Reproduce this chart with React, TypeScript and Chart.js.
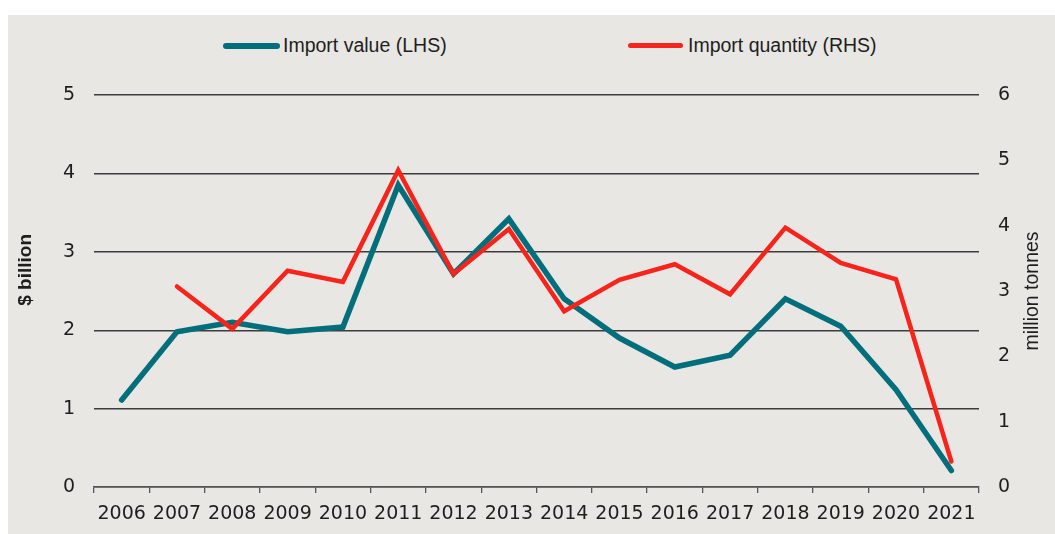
import React, { useEffect, useRef } from "react";
import { Chart, registerables } from "chart.js";

Chart.register(...registerables);

const years = ["2006","2007","2008","2009","2010","2011","2012","2013","2014","2015","2016","2017","2018","2019","2020","2021"];
const importValue = [1.11, 1.98, 2.1, 1.98, 2.04, 3.85, 2.72, 3.42, 2.4, 1.9, 1.53, 1.68, 2.4, 2.05, 1.24, 0.21];
const importQuantity = [null, 3.07, 2.42, 3.31, 3.14, 4.85, 3.26, 3.95, 2.69, 3.17, 3.41, 2.95, 3.97, 3.43, 3.18, 0.39];
const leftTitle = "$ billion";
const rightTitle = "million tonnes";
const valueLabel = "Import value (LHS)";
const quantityLabel = "Import quantity (RHS)";

const BLUE = "#006f7b";
const RED = "#f8231a";
const BG = "#e8e7e3";
const TEXT = "#1e1e1e";

// Draws the right axis title reading bottom-to-top, as in the reference.
const rightTitlePlugin = {
  id: "rightTitle",
  afterDraw(chart: any) {
    const { ctx, chartArea } = chart;
    ctx.save();
    ctx.translate(1025, (chartArea.top + chartArea.bottom) / 2);
    ctx.rotate(-Math.PI / 2);
    ctx.textAlign = "center";
    ctx.textBaseline = "middle";
    ctx.fillStyle = TEXT;
    ctx.font = "19.5px 'Liberation Sans'";
    ctx.fillText(rightTitle, 0, 0);
    ctx.restore();
  },
};

export default function App() {
  const ref = useRef<HTMLCanvasElement | null>(null);

  useEffect(() => {
    if (!ref.current) return;
    const chart = new Chart(ref.current, {
      type: "line",
      data: {
        labels: years,
        datasets: [
          {
            label: valueLabel,
            data: importValue,
            borderColor: BLUE,
            backgroundColor: BLUE,
            borderWidth: 5.5,
            borderCapStyle: "round",
            borderJoinStyle: "miter",
            pointRadius: 0,
            tension: 0,
            yAxisID: "y",
            order: 2,
          },
          {
            label: quantityLabel,
            data: importQuantity,
            borderColor: RED,
            backgroundColor: RED,
            borderWidth: 4.5,
            borderCapStyle: "round",
            borderJoinStyle: "miter",
            pointRadius: 0,
            tension: 0,
            yAxisID: "y1",
            order: 1,
          },
        ],
      },
      options: {
        responsive: false,
        animation: false,
        devicePixelRatio: 1,
        layout: { padding: { top: 80, left: 0, right: 0, bottom: 0 } },
        plugins: {
          legend: { display: false },
          tooltip: { enabled: false },
        },
        scales: {
          x: {
            offset: true,
            grid: {
              display: true,
              offset: true,
              drawOnChartArea: false,
              drawTicks: true,
              tickLength: 6,
              color: "#555",
              lineWidth: 1.3,
            },
            border: { display: true, color: "#555", width: 1.5 },
            ticks: {
              autoSkip: false,
              maxRotation: 0,
              padding: 10,
              color: TEXT,
              font: { family: "DejaVu Sans", size: 19 },
            },
            afterFit: (s: any) => { s.height = 47; },
          },
          y: {
            position: "left",
            min: 0,
            max: 5,
            ticks: {
              stepSize: 1,
              padding: 19,
              color: TEXT,
              font: { family: "DejaVu Sans", size: 19 },
            },
            grid: {
              display: true,
              drawTicks: false,
              color: "#3c3c3c",
              lineWidth: 1.4,
            },
            border: { display: false },
            title: {
              display: true,
              text: "        " + leftTitle,
              color: TEXT,
              font: { family: "Liberation Sans", size: 19, weight: "bold" },
              padding: { top: 6, bottom: 0 },
            },
            afterFit: (s: any) => { s.width = 86; },
          },
          y1: {
            position: "right",
            min: 0,
            max: 6,
            ticks: {
              stepSize: 1,
              padding: 19,
              color: TEXT,
              font: { family: "DejaVu Sans", size: 19 },
            },
            grid: { display: false, drawTicks: false },
            border: { display: false },
            afterFit: (s: any) => { s.width = 76; },
          },
        },
      },
      plugins: [rightTitlePlugin],
    });
    return () => chart.destroy();
  }, []);

  const legendText: React.CSSProperties = {
    position: "absolute",
    fontFamily: "'Liberation Sans', Arial, sans-serif",
    fontSize: "19.5px",
    lineHeight: "20px",
    color: TEXT,
    whiteSpace: "nowrap",
    top: 20,
  };
  const legendLine = (left: number, width: number, color: string, h: number): React.CSSProperties => ({
    position: "absolute",
    left,
    width,
    top: 30.7 - h / 2,
    height: h,
    borderRadius: h / 2,
    background: color,
  });

  return (
    <div
      style={{
        position: "absolute",
        left: 8,
        top: 15,
        width: 1047,
        height: 519,
        background: BG,
        overflow: "hidden",
      }}
    >
      <div style={legendLine(215, 57, BLUE, 6)} />
      <span style={{ ...legendText, left: 275 }}>{valueLabel}</span>
      <div style={legendLine(620, 55, RED, 5.5)} />
      <span style={{ ...legendText, left: 680 }}>{quantityLabel}</span>
      <canvas ref={ref} width={1047} height={519} style={{ position: "absolute", left: 0, top: 0, width: 1047, height: 519 }} />
    </div>
  );
}
